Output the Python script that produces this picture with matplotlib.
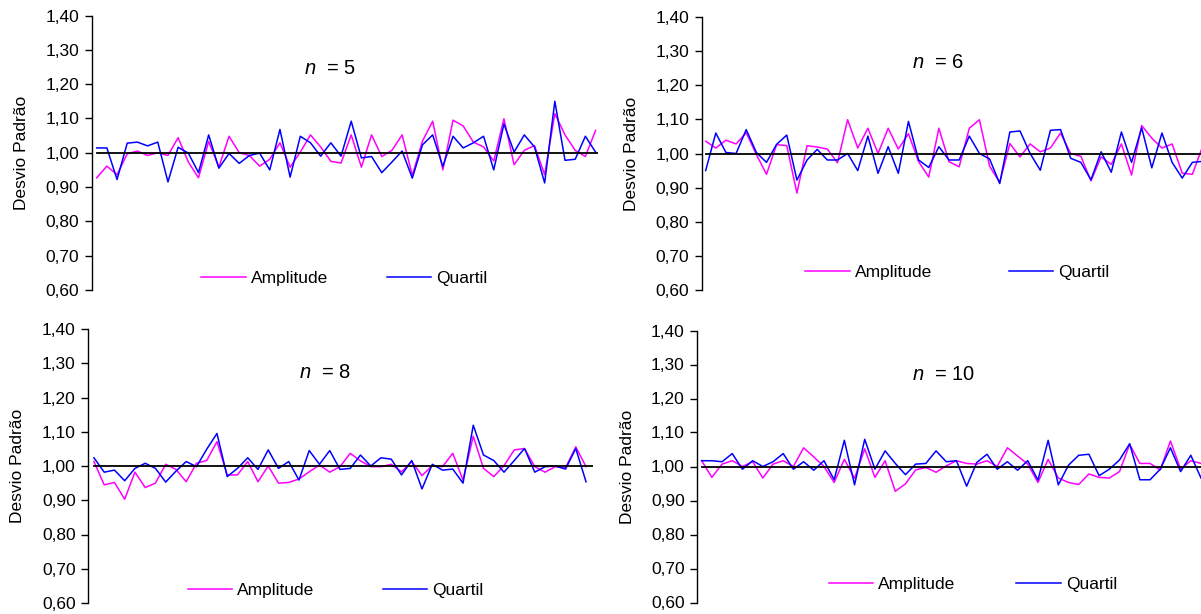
import matplotlib
matplotlib.use('Agg')
import matplotlib.pyplot as plt
from matplotlib.lines import Line2D

plt.rcParams['font.family'] = ['Liberation Sans', 'DejaVu Sans']
plt.rcParams['mathtext.fontset'] = 'custom'
plt.rcParams['mathtext.it'] = 'Liberation Sans:italic'
plt.rcParams['mathtext.rm'] = 'Liberation Sans'

# ---------------- data ----------------
sample_sizes = [5, 6, 8, 10]
series_labels = ['Amplitude', 'Quartil']
ylabel_text = 'Desvio Padrão'
reference_level = 1.00
y_ticks = [0.60, 0.70, 0.80, 0.90, 1.00, 1.10, 1.20, 1.30, 1.40]
y_tick_labels = ['0,60', '0,70', '0,80', '0,90', '1,00', '1,10', '1,20', '1,30', '1,40']

amplitude_n5 = [0.927, 0.961, 0.936, 0.997, 1.005, 0.992, 1.000, 0.992, 1.044, 0.973,
                0.927, 1.033, 0.958, 1.048, 1.000, 0.992, 0.961, 0.981, 1.029, 0.958,
                1.002, 1.052, 1.017, 0.975, 0.970, 1.052, 0.958, 1.052, 0.989, 1.007,
                1.052, 0.934, 1.034, 1.092, 0.950, 1.095, 1.078, 1.031, 1.017, 0.976,
                1.099, 0.965, 1.007, 1.021, 0.936, 1.114, 1.052, 1.007, 0.989, 1.065]
quartil_n5 = [1.014, 1.014, 0.922, 1.028, 1.031, 1.020, 1.031, 0.915, 1.016, 0.999,
              0.942, 1.052, 0.955, 0.998, 0.969, 0.992, 0.999, 0.950, 1.068, 0.929,
              1.048, 1.029, 0.990, 1.029, 0.990, 1.092, 0.985, 0.989, 0.942, 0.973,
              1.005, 0.926, 1.023, 1.052, 0.960, 1.048, 1.014, 1.029, 1.048, 0.950,
              1.084, 1.002, 1.052, 1.017, 0.912, 1.150, 0.978, 0.981, 1.048, 1.002]

amplitude_n6 = [1.036, 1.016, 1.039, 1.028, 1.061, 0.997, 0.939, 1.026, 1.023, 0.884,
                1.023, 1.019, 1.013, 0.973, 1.099, 1.016, 1.074, 1.000, 1.074, 1.013,
                1.058, 0.976, 0.931, 1.074, 0.976, 0.961, 1.074, 1.099, 0.963, 0.915,
                1.029, 0.990, 1.028, 1.005, 1.016, 1.060, 1.000, 0.992, 0.920, 0.990,
                0.968, 1.028, 0.937, 1.082, 1.045, 1.016, 1.028, 0.942, 0.939, 1.020]
quartil_n6 = [0.950, 1.060, 1.003, 1.000, 1.070, 1.003, 0.974, 1.027, 1.054, 0.922,
              0.981, 1.012, 0.981, 0.981, 1.000, 0.950, 1.051, 0.942, 1.020, 0.942,
              1.094, 0.981, 0.959, 1.020, 0.981, 0.981, 1.051, 1.000, 0.984, 0.912,
              1.063, 1.066, 1.000, 0.951, 1.068, 1.070, 0.986, 0.974, 0.923, 1.005,
              0.945, 1.063, 0.974, 1.075, 0.958, 1.060, 0.974, 0.928, 0.974, 0.977]

amplitude_n8 = [1.013, 0.945, 0.952, 0.903, 0.982, 0.937, 0.950, 1.005, 0.990, 0.954,
                1.008, 1.016, 1.071, 0.974, 0.974, 1.013, 0.954, 1.000, 0.950, 0.952,
                0.962, 0.983, 1.003, 0.982, 0.998, 1.037, 1.015, 0.998, 0.998, 1.005,
                0.983, 1.013, 0.972, 1.001, 0.998, 1.037, 0.959, 1.087, 0.993, 0.969,
                1.001, 1.047, 1.051, 0.998, 0.982, 0.998, 0.995, 1.056, 0.998]
quartil_n8 = [1.024, 0.982, 0.988, 0.957, 0.993, 1.008, 0.993, 0.953, 0.985, 1.013,
              0.998, 1.049, 1.095, 0.969, 0.993, 1.024, 0.990, 1.047, 0.993, 1.013,
              0.959, 1.045, 1.005, 1.045, 0.990, 0.993, 1.032, 1.000, 1.024, 1.020,
              0.974, 1.016, 0.933, 1.005, 0.988, 0.991, 0.950, 1.119, 1.032, 1.016,
              0.982, 1.016, 1.051, 0.982, 0.998, 1.000, 0.991, 1.051, 0.954]

amplitude_n10 = [1.017, 0.968, 1.007, 1.017, 1.000, 1.014, 0.966, 1.007, 1.017, 1.000,
                 1.055, 1.028, 1.000, 0.953, 1.021, 0.965, 1.052, 0.968, 1.017, 0.927,
                 0.949, 0.990, 0.997, 0.983, 1.002, 1.017, 1.009, 1.007, 1.017, 1.000,
                 1.055, 1.031, 1.007, 0.953, 1.021, 0.966, 0.953, 0.947, 0.978, 0.968,
                 0.966, 0.985, 1.065, 1.009, 1.009, 0.990, 1.075, 0.992, 1.017, 1.009]
quartil_n10 = [1.017, 1.017, 1.014, 1.038, 0.992, 1.017, 1.000, 1.014, 1.038, 0.992,
               1.014, 0.989, 1.017, 0.961, 1.077, 0.946, 1.080, 0.992, 1.046, 1.009,
               0.976, 1.007, 1.009, 1.046, 1.014, 1.017, 0.942, 1.012, 1.036, 0.992,
               1.014, 0.989, 1.017, 0.960, 1.077, 0.946, 1.004, 1.033, 1.036, 0.973,
               0.992, 1.019, 1.067, 0.961, 0.961, 0.992, 1.055, 0.985, 1.033, 0.966]

amplitude_series = [amplitude_n5, amplitude_n6, amplitude_n8, amplitude_n10]
quartil_series = [quartil_n5, quartil_n6, quartil_n8, quartil_n10]

# ---------------- layout (pixels) ----------------
W, H = 1201, 614
# left, right, top, bottom, xlim_left, xlim_right, title(x,y), ylabel x, legend(x,y), colspacing
layout = [
    dict(l=91.7, r=598, t=15.5, b=290, x0=-0.49, x1=49.24, tx=330, ty=69, yl=21.5, lx=344.5, ly=278, cs=3.4),
    dict(l=701.7, r=1201, t=17, b=290, x0=-0.39, x1=48.85, tx=938, ty=62, yl=632, lx=957.5, ly=272, cs=4.43),
    dict(l=88.3, r=593, t=329, b=603, x0=-0.55, x1=48.68, tx=325, ty=372, yl=17.5, lx=335.5, ly=590, cs=3.92),
    dict(l=697.3, r=1201, t=330.5, b=602.5, x0=-0.43, x1=49.0, tx=944, ty=375, yl=628, lx=973, ly=584, cs=3.51),
]

AMP_COLOR = '#FF00FF'
QUA_COLOR = '#0000FF'
FS = 12.5

fig = plt.figure(figsize=(W / 100, H / 100), dpi=100)

for n, amp, qua, L in zip(sample_sizes, amplitude_series, quartil_series, layout):
    ax = fig.add_axes([L['l'] / W, 1 - L['b'] / H, (L['r'] - L['l']) / W, (L['b'] - L['t']) / H])
    ax.plot(range(len(amp)), amp, color=AMP_COLOR, lw=1.1, zorder=2)
    ax.plot(range(len(qua)), qua, color=QUA_COLOR, lw=1.1, zorder=2)
    ax.set_xlim(L['x0'], L['x1'])
    ax.set_ylim(0.60, 1.40)
    xmin_frac = (0 - L['x0']) / (L['x1'] - L['x0'])
    ax.axhline(reference_level, xmin=xmin_frac, xmax=1, color='black', lw=1.3, zorder=3)

    for s in ['top', 'right', 'bottom']:
        ax.spines[s].set_visible(False)
    ax.spines['left'].set_linewidth(1.0)
    ax.set_xticks([])
    ax.set_yticks(y_ticks)
    ax.set_yticklabels(y_tick_labels, fontsize=FS)
    ax.tick_params(axis='y', direction='out', length=4.8, width=1.0, pad=4.2)
    ax.patch.set_alpha(0)

    fig.text(L['yl'] / W, 1 - ((L['t'] + L['b']) / 2) / H, ylabel_text, rotation=90,
             ha='center', va='center', fontsize=FS)
    fig.text(L['tx'] / W, 1 - L['ty'] / H, r'$n$  = %d' % n, ha='center', va='center', fontsize=14.5)

    handles = [Line2D([], [], color=AMP_COLOR, lw=1.1), Line2D([], [], color=QUA_COLOR, lw=1.1)]
    ax.legend(handles, series_labels, ncol=2, frameon=False, fontsize=FS,
              loc='center', bbox_to_anchor=(L['lx'] / W, 1 - L['ly'] / H),
              bbox_transform=fig.transFigure, handlelength=2.55, handletextpad=0.29,
              columnspacing=L['cs'], borderpad=0, borderaxespad=0)

fig.savefig('out.png', dpi=100)
